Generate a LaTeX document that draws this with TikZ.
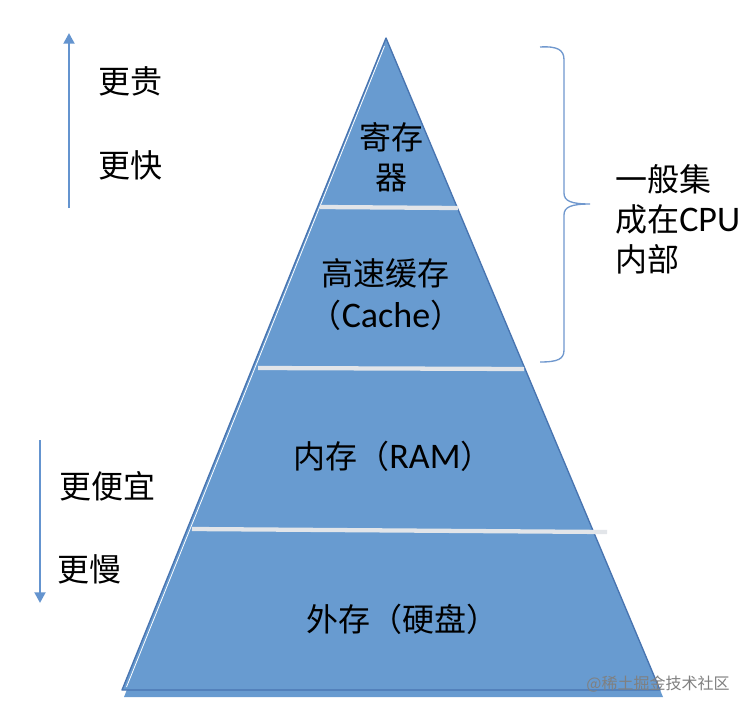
\documentclass[tikz,border=0pt]{standalone}
\usepackage{fontspec}
\setmainfont{Carlito}
\newfontfamily\cjk{Noto Sans CJK SC}
\newfontfamily\latfont{Carlito}
\newcommand{\lat}[1]{{\fontsize{27}{30}\selectfont\latfont #1}}
\usetikzlibrary{arrows.meta}
\definecolor{pyrfill}{RGB}{104,155,208}
\definecolor{pyredge}{RGB}{72,116,176}
\definecolor{sepgray}{RGB}{226,229,233}
\definecolor{arrowblue}{RGB}{100,148,207}
\definecolor{bracecol}{RGB}{112,152,206}
\begin{document}
\begin{tikzpicture}[x=0.75pt,y=-0.75pt,
  lbl/.style={font=\fontsize{24}{30}\selectfont\cjk, text=black, inner sep=0pt, align=center},
  sep/.style={sepgray, line width=3.2pt},
  side/.style={arrowblue, line width=2pt, -{Triangle[length=8pt,width=8pt]}}]
\useasboundingbox (0,0) rectangle (748,710);
\fill[white] (0,0) rectangle (748,710);
% pyramid
\coordinate (apex) at (386,38);
\coordinate (bl) at (122,690);
\coordinate (br) at (660,690);
\fill[pyrfill] (388,44) -- (663,697) -- (124,697) -- cycle;
\filldraw[fill=pyrfill, draw=pyredge, line width=1pt, line join=round] (apex) -- (br) -- (bl) -- cycle;
\draw[white, line width=0.6pt] (384.5,46) -- (126.5,687);
% separators
\draw[sep] (320,207) -- (458,208);
\draw[sep] (258,368) -- (524,369);
\draw[sep] (192,529) -- (607,532);
% side arrows
\coordinate (upS) at (69,208);
\coordinate (upE) at (69,33);
\coordinate (dnS) at (40,440);
\coordinate (dnE) at (40,603);
\draw[side] (upS) -- (upE);
\draw[side] (dnS) -- (dnE);
% brace
\draw[bracecol, line width=1pt] (540,47) .. controls (558,46) and (564,50) .. (564,60)
  -- (564,193) .. controls (564,201) and (571,204) .. (590,204)
  .. controls (571,204) and (564,207) .. (564,215)
  -- (564,350) .. controls (564,359) and (558,362) .. (540,362);
% labels
\node[lbl] (gui) at (130,81) {更贵};
\node[lbl] (kuai) at (130,165) {更快};
\node[lbl] (pianyi) at (107,486) {更便宜};
\node[lbl] (man) at (89,569) {更慢};
\node[lbl] (reg) at (391,157) {寄存\\器};
\node[lbl] (cache1) at (385,273) {高速缓存};
\node[lbl] (cache2) at (386,315) {（\lat{Cache}）};
\node[lbl] (ram) at (393,456) {内存（\lat{RAM}）};
\node[lbl] (disk) at (402,619) {外存（硬盘）};
\node[lbl, align=left, anchor=west] (cpu) at (615,219) {一般集\\成在\lat{CPU}\\内部};
\node[font=\fontsize{12}{14}\selectfont\cjk, text=black!50, inner sep=0pt] (wm) at (658,684) {@稀土掘金技术社区};
\end{tikzpicture}
\end{document}
